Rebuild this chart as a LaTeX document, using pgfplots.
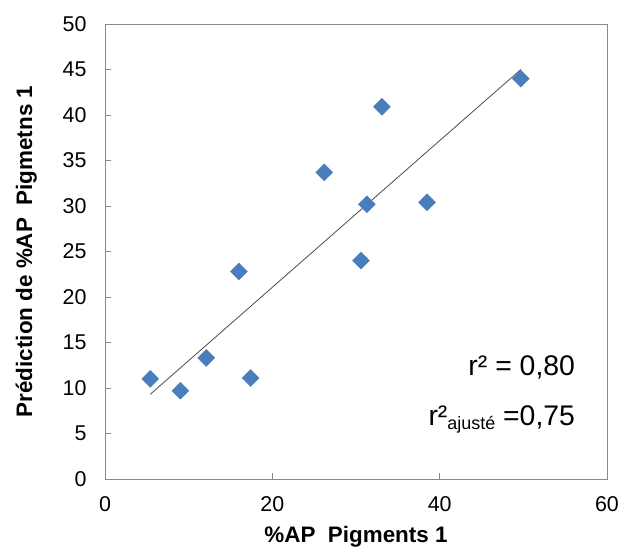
\documentclass[border=0pt]{standalone}
\usepackage{fontspec}
\setmainfont{Liberation Sans}
\usepackage{pgfplots}
\pgfplotsset{compat=1.18}
\definecolor{ptblue}{HTML}{4A7EBB}
\definecolor{axgray}{HTML}{898989}
\begin{document}
\begin{tikzpicture}
\begin{axis}[
  scale only axis,
  width=502bp, height=455bp,
  xmin=0, xmax=60, ymin=0, ymax=50,
  xtick={0,20,40,60},
  ytick={0,5,...,50},
  tick pos=left,
  tick align=inside,
  major tick length=6bp,
  axis line style={draw=axgray, line width=0.9bp},
  every tick/.style={draw=axgray, line width=0.9bp},
  /pgf/number format/assume math mode=true,
  tick label style={font=\fontsize{21.5}{24}\selectfont, text=black},
  xticklabel style={yshift=-14bp},
  yticklabel style={xshift=-15bp},
  label style={font=\bfseries\fontsize{22.5}{26}\selectfont},
  xlabel={\%AP~ Pigments 1},
  ylabel={Prédiction de \%AP~ Pigmetns 1},
  xlabel style={at={(axis description cs:0.5,-0.1385)}, anchor=base},
  ylabel style={at={(axis description cs:-0.1454,0.5)}, anchor=base},
  clip=false,
]
\addplot[black!70, line width=0.8bp] coordinates {(5.4,9.3) (49.7,45.0)};
\addplot[only marks, mark=square*, mark size=6bp, mark options={rotate=45, fill=ptblue, draw=ptblue}] coordinates {
(5.4,11.0) (9.0,9.7) (12.1,13.3) (16.0,22.8) (17.4,11.1)
(26.2,33.7) (30.6,24.0) (31.3,30.2) (33.1,40.9) (38.5,30.4) (49.7,44.0)
};
\node[anchor=base east, font=\fontsize{28.5}{32}\selectfont, inner sep=0pt] at (axis cs:56.2,11.4) {r² = 0,80};
\node[anchor=base east, font=\fontsize{28.5}{32}\selectfont, inner sep=0pt] at (axis cs:56.2,5.9) {r²\raisebox{-4bp}{\fontsize{18}{20}\selectfont ajusté} =0,75};
\end{axis}
\pgfresetboundingbox
\path (-105bp,-70bp) rectangle (514bp,479bp);
\end{tikzpicture}
\end{document}
